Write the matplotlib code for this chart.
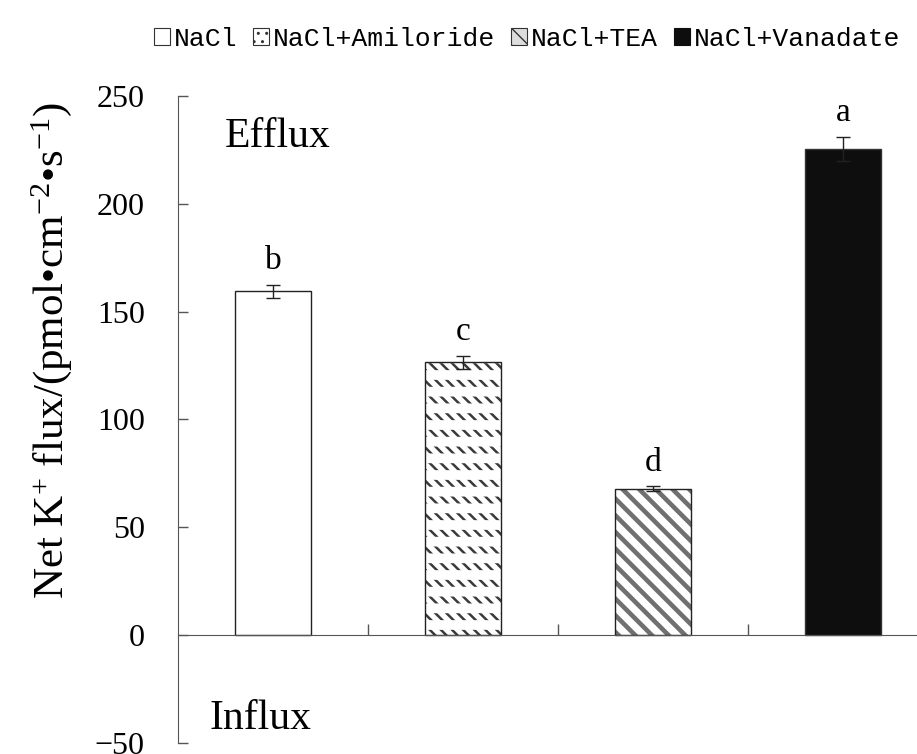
import matplotlib
matplotlib.use("Agg")
import matplotlib.pyplot as plt
from matplotlib.patches import Rectangle
import numpy as np

categories = ["NaCl", "NaCl+Amiloride", "NaCl+TEA", "NaCl+Vanadate"]
values = [159.5, 126.5, 68.0, 225.5]
errors = [3.0, 3.0, 1.0, 5.5]
letters = ["b", "c", "d", "a"]
yticks = [-50, 0, 50, 100, 150, 200, 250]

serif = "Liberation Serif"
mono = "Liberation Mono"

plt.rcParams["mathtext.fontset"] = "custom"
plt.rcParams["mathtext.rm"] = serif
plt.rcParams["mathtext.it"] = serif + ":italic"
plt.rcParams["mathtext.bf"] = serif + ":bold"
plt.rcParams["mathtext.default"] = "rm"

fig = plt.figure(figsize=(9.17, 7.54), dpi=100)
ax = fig.add_axes([178/917, 1-743/754, (938-178)/917, (743-96)/754])

x = np.arange(len(categories))
w = 0.4
axis_col = "#555555"

# bar 1: white
ax.bar(x[0], values[0], w, facecolor="white", edgecolor="#222222", linewidth=1.0, zorder=2)

# bar 2: dashed diagonal rows
with plt.rc_context({"hatch.linewidth": 1.8}):
    ax.bar(x[1], values[1], w, facecolor="white", edgecolor="#3a3a3a", linewidth=0,
           hatch="\\\\\\", zorder=2)
with plt.rc_context({"hatch.linewidth": 7.0}):
    ax.bar(x[1], values[1], w, facecolor="none", edgecolor="white", linewidth=0,
           hatch="-", zorder=2.1)
ax.bar(x[1], values[1], w, facecolor="none", edgecolor="#222222", linewidth=1.0, zorder=2.2)

# bar 3: wide diagonal gray stripes
with plt.rc_context({"hatch.linewidth": 3.3}):
    ax.bar(x[2], values[2], w, facecolor="white", edgecolor="#707070", linewidth=0,
           hatch="\\\\", zorder=2)
ax.bar(x[2], values[2], w, facecolor="none", edgecolor="#222222", linewidth=1.0, zorder=2.2)

# bar 4: black
ax.bar(x[3], values[3], w, facecolor="#0e0e0e", edgecolor="#333333", linewidth=1.0, zorder=2)

ax.errorbar(x, values, yerr=errors, fmt="none", ecolor="#222222", elinewidth=1.0,
            capsize=5, capthick=1.0, zorder=3)

for xi, v, e, l in zip(x, values, errors, letters):
    ax.text(xi, v + e + 4, l, ha="center", va="bottom", fontsize=24, family=serif)

ax.set_xlim(-0.5, 3.5)
ax.set_ylim(-50, 250)
ax.set_yticks(yticks)
ax.set_yticklabels([str(t) if t >= 0 else "\u221250" for t in yticks], family=serif, fontsize=23)
ax.tick_params(axis="y", direction="in", length=7, width=1, color=axis_col, pad=24)
ax.set_xticks([0.5, 1.5, 2.5])
ax.set_xticklabels([])
ax.tick_params(axis="x", direction="in", length=8, width=1, color=axis_col)

for s in ["top", "right"]:
    ax.spines[s].set_visible(False)
ax.spines["bottom"].set_position(("data", 0))
ax.spines["bottom"].set_color(axis_col)
ax.spines["left"].set_color(axis_col)
ax.spines["bottom"].set_zorder(4)

ax.set_ylabel("Net K$^{+}$ flux/(pmol\u2022cm$^{-2}$\u2022s$^{-1}$)", family=serif, fontsize=31)
ax.yaxis.set_label_coords(-0.137, 0.607)

ax.text(0.062, 0.967, "Efflux", transform=ax.transAxes, fontsize=30, family=serif,
        ha="left", va="top")
ax.text(0.041, 0.008, "Influx", transform=ax.transAxes, fontsize=30, family=serif,
        ha="left", va="bottom")

# legend
h1 = Rectangle((0, 0), 1, 1, facecolor="white", edgecolor="#333333", linewidth=0.8)
with plt.rc_context({"hatch.linewidth": 1.0}):
    h2 = Rectangle((0, 0), 1, 1, facecolor="white", edgecolor="#333333", linewidth=0.8, hatch="..")
with plt.rc_context({"hatch.linewidth": 2.0}):
    h3 = Rectangle((0, 0), 1, 1, facecolor="#dddddd", edgecolor="#333333", linewidth=0.8, hatch="\\\\")
h4 = Rectangle((0, 0), 1, 1, facecolor="#0e0e0e", edgecolor="#0e0e0e", linewidth=0.8)
leg = fig.legend([h1, h2, h3, h4], categories, loc="center", ncol=4,
                 bbox_to_anchor=(527/917, 1-39/754), frameon=False,
                 prop={"family": mono, "size": 19}, handlelength=0.6, handleheight=0.6,
                 handletextpad=0.15, columnspacing=0.6, borderaxespad=0)

fig.savefig("out.png", dpi=100)
